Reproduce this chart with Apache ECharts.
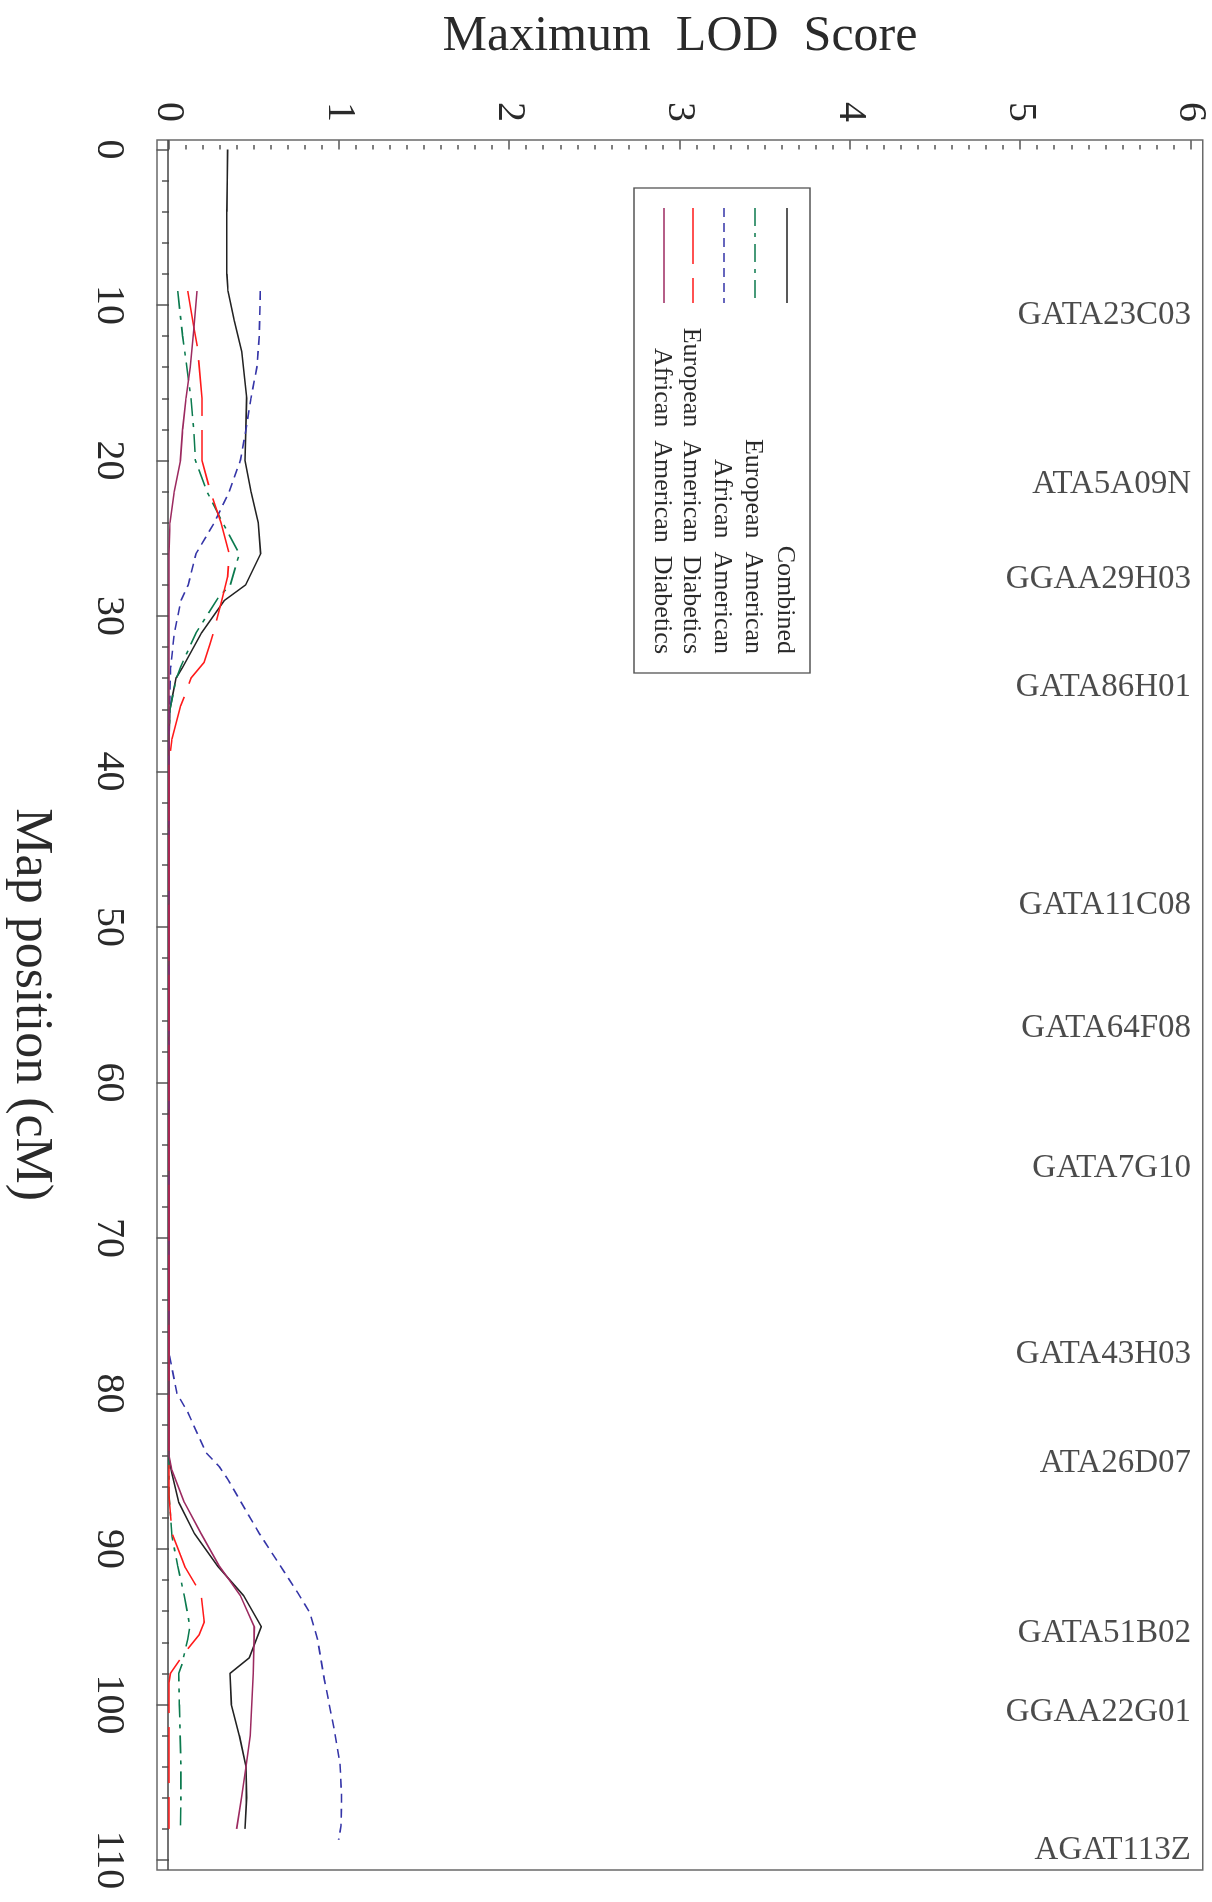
<!DOCTYPE html>
<html>
<head>
<meta charset="utf-8">
<script src="https://cdn.jsdelivr.net/npm/echarts@6/dist/echarts.min.js"></script>
<style>
html,body{margin:0;padding:0;background:#fff;overflow:hidden;}
#wrap{position:absolute;left:0;top:0;width:1212px;height:1902px;overflow:hidden;background:#fff;}
#chart{position:absolute;left:0;top:0;width:1902px;height:1212px;transform-origin:0 0;transform:translate(1212px,0) rotate(90deg);}
</style>
</head>
<body>
<div id="wrap"><div id="chart"></div></div>
<script>
// ---- data: [map position (cM), max LOD score] ----
const combined = [[0,0.344],[2,0.342],[4,0.340],[6,0.339],[8,0.340],[9.1,0.346],[11,0.383],[13,0.427],[16,0.456],[20,0.446],[22,0.481],[24,0.524],[26,0.538],[28,0.45],[29,0.325],[31.1,0.19],[33.3,0.08],[34,0.041],[36,0.005],[38,0],[50,0],[60,0],[70,0],[80,0],[84.2,0],[85.1,0.016],[87,0.057],[89,0.149],[91.1,0.286],[93,0.438],[95,0.542],[97,0.471],[98,0.358],[100,0.366],[102,0.413],[104,0.452],[106,0.456],[108,0.446]];
const europeanAmerican = [[9.1,0.051],[12,0.080],[16,0.129],[18,0.145],[20,0.155],[22,0.223],[24,0.315],[26,0.413],[28,0.36],[28.8,0.29],[31.1,0.158],[33.3,0.067],[34.1,0.041],[36,0.006],[38,0],[50,0],[60,0],[70,0],[80,0],[86.5,0],[89.2,0.018],[91.1,0.051],[93,0.09],[95,0.123],[95.8,0.11],[97.5,0.074],[98,0.057],[100,0.061],[104,0.07],[106,0.07],[108,0.067]];
const africanAmerican = [[9.1,0.536],[12,0.53],[14,0.516],[16,0.481],[18,0.452],[20,0.419],[22,0.354],[24,0.266],[26,0.158],[28,0.113],[29,0.07],[31.1,0.031],[33.3,0.010],[35.5,0.004],[37,0],[50,0],[60,0],[70,0],[77.4,0],[80,0.047],[81.2,0.11],[83.8,0.217],[84.7,0.295],[85.5,0.344],[89,0.53],[92.8,0.755],[94.1,0.827],[95.8,0.872],[98.4,0.912],[101.6,0.970],[103.8,1.004],[105.9,1.013],[107.8,1.01],[108.7,0.996]];
const europeanAmericanDiabetics = [[9.1,0.11],[11.4,0.145],[12.8,0.168],[16,0.194],[20,0.194],[22,0.243],[24,0.305],[26,0.354],[27.5,0.344],[29,0.31],[31,0.262],[31.8,0.241],[33,0.205],[34,0.129],[35.1,0.094],[35.8,0.067],[37.9,0.018],[39.4,0],[50,0],[60,0],[70,0],[80,0],[86.6,0],[89,0.018],[90.4,0.067],[91.2,0.096],[92.9,0.188],[94.7,0.207],[95.5,0.178],[96.7,0.09],[98,0.008],[98.6,0],[100,0],[104,0],[108,0]];
const africanAmericanDiabetics = [[9.1,0.164],[11.6,0.145],[14,0.125],[16,0.10],[18,0.08],[20,0.067],[22,0.031],[24,0.006],[26,0],[40,0],[50,0],[60,0],[70,0],[80,0],[84,0],[84.9,0.016],[87,0.09],[89,0.188],[91.1,0.295],[92,0.354],[93,0.419],[95,0.501],[98,0.495],[102,0.477],[104,0.452],[106,0.426],[108,0.397]];

const seriesNames = ['Combined','European American','African American','European American Diabetics','African American Diabetics'];
const legendLabels = ['Combined','European  American','African  American','European  American  Diabetics','African  American  Diabetics'];

const markerNames = ['GATA23C03','ATA5A09N','GGAA29H03','GATA86H01','GATA11C08','GATA64F08','GATA7G10','GATA43H03','ATA26D07','GATA51B02','GGAA22G01','AGAT113Z'];
const markerPositions = [10.67,21.56,27.64,34.57,48.58,56.52,65.55,77.46,84.47,95.45,100.5,109.38];
const markerLabelLod = 6;

const mapTickInterval = 10;   // cM
const lodTickInterval = 1;

// ---- styles ----
const FONT = "'Liberation Serif','Times New Roman',serif";
const styles = [
  {color:'#222222', type:'solid'},
  {color:'#0b7a4e', type:[18,7,4,7]},
  {color:'#3535a8', type:[9,6]},
  {color:'#ff1a1a', type:[56,14]},
  {color:'#9c2a60', type:'solid'}
];
const allData = [combined, europeanAmerican, africanAmerican, europeanAmericanDiabetics, africanAmericanDiabetics];

const chart = echarts.init(document.getElementById('chart'), null, {renderer:'canvas'});

const lineSeries = allData.map((d,i)=>({
  name: seriesNames[i],
  type:'line',
  xAxisIndex:0, yAxisIndex:0,
  data:d,
  symbol:'none',
  clip:false,
  silent:true,
  z: 3+i,
  lineStyle:{color:styles[i].color, width:1.6, type:styles[i].type},
  itemStyle:{color:styles[i].color}
}));

// legend (drawn as graphic, in chart coordinates)
const legendEls = [{
  type:'rect', shape:{x:188,y:402,width:485,height:176},
  style:{fill:'#ffffff', stroke:'#555555', lineWidth:1.3}, z:10
}];
const legendY = [425,457,488,519,548];
legendY.forEach((y,i)=>{
  legendEls.push({
    type:'line', shape:{x1:208,y1:y,x2:303,y2:y},
    style:{stroke:styles[i].color, lineWidth:1.6, lineDash: Array.isArray(styles[i].type)?styles[i].type:null}, z:11
  });
  legendEls.push({
    type:'text', x:654, y:y+2,
    style:{text:legendLabels[i], font:"26px "+FONT, fill:'#2a2a2a', align:'right', verticalAlign:'middle', textAlign:'right', textVerticalAlign:'middle'}, z:11
  });
});

const option = {
  animation:false,
  backgroundColor:'#ffffff',
  grid:[
    {left:149.5, right:42, top:21, bottom:168, show:false},
    {left:140, right:32, top:9.3, bottom:157, show:true, borderColor:'#6a6a6a', borderWidth:1.5, backgroundColor:'transparent'}
  ],
  xAxis:[
    {
      type:'value', gridIndex:0, min:0, max:110, interval:mapTickInterval,
      position:'bottom', offset:11,
      name:'Map position (cM)', nameLocation:'middle', nameGap:101,
      nameTextStyle:{fontFamily:FONT, fontSize:52, color:'#2a2a2a'},
      axisLine:{show:false},
      axisTick:{show:true, inside:false, length:12.5, lineStyle:{color:'#555555', width:1.5}},
      minorTick:{show:true, splitNumber:5, length:7, lineStyle:{color:'#555555', width:1.5}},
      splitLine:{show:false},
      axisLabel:{fontFamily:FONT, fontSize:40, color:'#2a2a2a', margin:29}
    },
    {
      type:'value', gridIndex:1, min:-0.611, max:110.64, show:false
    }
  ],
  yAxis:[
    {
      type:'value', gridIndex:0, min:0, max:6, interval:lodTickInterval,
      position:'left', offset:9.5,
      name:'Maximum  LOD  Score', nameLocation:'middle', nameGap:78, nameRotate:90,
      nameTextStyle:{fontFamily:FONT, fontSize:50, color:'#2a2a2a'},
      axisLine:{show:false},
      axisTick:{show:true, inside:false, length:9.3, lineStyle:{color:'#555555', width:1.5}},
      minorTick:{show:true, splitNumber:10, length:4.5, lineStyle:{color:'#555555', width:1.5}},
      splitLine:{show:false},
      axisLabel:{fontFamily:FONT, fontSize:40, color:'#2a2a2a', margin:18}
    },
    {
      type:'value', gridIndex:1, min:-0.0646, max:6.072, show:false
    }
  ],
  series:[
    {
      type:'line', xAxisIndex:1, yAxisIndex:1, silent:true, symbol:'none', z:2,
      data:[[-0.611,0],[110.64,0]],
      lineStyle:{color:'#444444', width:1.5}
    },
    ...lineSeries,
    {
      type:'scatter', xAxisIndex:0, yAxisIndex:0, silent:true, symbolSize:1, z:9,
      itemStyle:{color:'rgba(0,0,0,0)'},
      data: markerNames.map((n,i)=>({name:n, value:[markerPositions[i], markerLabelLod]})),
      label:{show:true, position:'inside', rotate:90, align:'right', verticalAlign:'middle',
        formatter:'{b}', fontFamily:FONT, fontSize:33, color:'#1e1e1e'}
    }
  ],
  graphic: legendEls
};
chart.setOption(option);
</script>
</body>
</html>
